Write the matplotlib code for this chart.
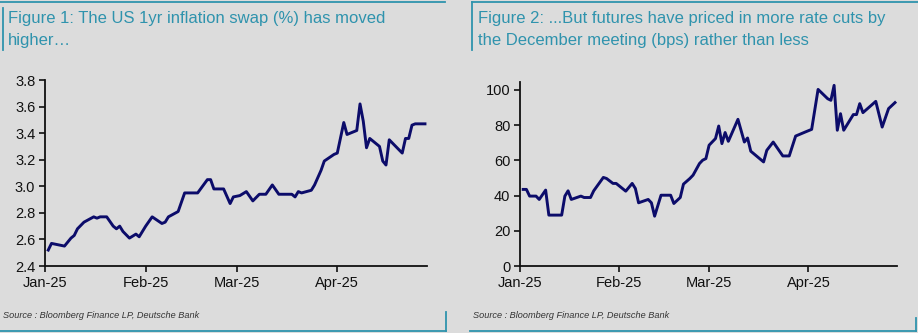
import matplotlib
matplotlib.use("Agg")
import matplotlib.pyplot as plt
import matplotlib.dates as mdates
from matplotlib.lines import Line2D
import pandas as pd

# Figure 1: US 1yr inflation swap (%)
swap_dates = [
    "2025-01-02", "2025-01-03", "2025-01-05", "2025-01-07", "2025-01-09", "2025-01-10",
    "2025-01-11", "2025-01-13", "2025-01-16", "2025-01-17", "2025-01-18", "2025-01-20",
    "2025-01-22", "2025-01-23", "2025-01-24", "2025-01-25", "2025-01-27", "2025-01-29",
    "2025-01-30", "2025-02-01", "2025-02-03", "2025-02-06", "2025-02-07", "2025-02-08",
    "2025-02-11", "2025-02-13", "2025-02-17", "2025-02-20", "2025-02-21", "2025-02-22",
    "2025-02-25", "2025-02-27", "2025-02-28", "2025-03-02", "2025-03-04", "2025-03-06",
    "2025-03-08", "2025-03-10", "2025-03-12", "2025-03-14", "2025-03-18", "2025-03-19",
    "2025-03-20", "2025-03-21", "2025-03-24", "2025-03-25", "2025-03-27", "2025-03-28",
    "2025-03-31", "2025-04-01", "2025-04-03", "2025-04-04", "2025-04-07", "2025-04-08",
    "2025-04-09", "2025-04-10", "2025-04-11", "2025-04-14", "2025-04-15", "2025-04-16",
    "2025-04-17", "2025-04-21", "2025-04-22", "2025-04-23", "2025-04-24", "2025-04-25",
    "2025-04-28",
]
swap_values = [
    2.52, 2.57, 2.56, 2.55, 2.61, 2.63,
    2.68, 2.73, 2.77, 2.76, 2.77, 2.77,
    2.70, 2.68, 2.70, 2.66, 2.61, 2.64,
    2.62, 2.70, 2.77, 2.72, 2.73, 2.77,
    2.81, 2.95, 2.95, 3.05, 3.05, 2.98,
    2.98, 2.87, 2.92, 2.93, 2.96, 2.89,
    2.94, 2.94, 3.01, 2.94, 2.94, 2.92,
    2.96, 2.95, 2.97, 3.01, 3.12, 3.19,
    3.24, 3.25, 3.48, 3.39, 3.42, 3.62,
    3.49, 3.29, 3.36, 3.30, 3.19, 3.16,
    3.35, 3.25, 3.36, 3.36, 3.46, 3.47,
    3.47,
]

# Figure 2: rate cuts priced by the December meeting (bps)
cuts_dates = [
    "2025-01-02", "2025-01-03", "2025-01-04", "2025-01-06", "2025-01-07", "2025-01-09",
    "2025-01-10", "2025-01-14", "2025-01-15", "2025-01-16", "2025-01-17", "2025-01-20",
    "2025-01-21", "2025-01-23", "2025-01-24", "2025-01-27", "2025-01-28", "2025-01-30",
    "2025-01-31", "2025-02-03", "2025-02-05", "2025-02-06", "2025-02-07", "2025-02-10",
    "2025-02-11", "2025-02-12", "2025-02-14", "2025-02-17", "2025-02-18", "2025-02-20",
    "2025-02-21", "2025-02-23", "2025-02-24", "2025-02-26", "2025-02-27", "2025-02-28",
    "2025-03-01", "2025-03-03", "2025-03-04", "2025-03-05", "2025-03-06", "2025-03-07",
    "2025-03-10", "2025-03-12", "2025-03-13", "2025-03-14", "2025-03-18", "2025-03-19",
    "2025-03-21", "2025-03-24", "2025-03-26", "2025-03-28", "2025-03-31", "2025-04-02",
    "2025-04-04", "2025-04-07", "2025-04-08", "2025-04-09", "2025-04-10", "2025-04-11",
    "2025-04-12", "2025-04-15", "2025-04-16", "2025-04-17", "2025-04-18", "2025-04-22",
    "2025-04-24", "2025-04-26", "2025-04-28",
]
cuts_values = [
    43.5, 43.5, 39.7, 39.7, 37.8, 43.1,
    28.9, 28.9, 39.7, 42.7, 37.8, 39.7,
    38.9, 38.9, 42.7, 50.3, 49.7, 46.9,
    46.9, 42.5, 46.9, 44.0, 35.9, 37.8,
    35.9, 28.3, 40.2, 40.2, 35.5, 38.9,
    46.5, 49.7, 51.6, 58.2, 60.1, 61.0,
    68.6, 72.4, 79.5, 69.5, 75.8, 70.8,
    83.3, 70.4, 72.7, 65.2, 59.1, 65.7,
    70.4, 62.5, 62.5, 73.8, 76.1, 77.6,
    100.3, 95.0, 94.1, 102.6, 77.1, 86.5,
    77.1, 86.0, 86.0, 92.2, 87.1, 93.5,
    78.9, 89.4, 92.8,
]

titles = [
    "Figure 1: The US 1yr inflation swap (%) has moved\nhigher\u2026",
    "Figure 2: ...But futures have priced in more rate cuts by\nthe December meeting (bps) rather than less",
]
source = "Source : Bloomberg Finance LP, Deutsche Bank"

bg = "#dcdcdc"
teal = "#2f93ad"
navy = "#0c0c6a"

plt.rcParams["font.family"] = ["Liberation Sans", "DejaVu Sans"]

W, H = 918, 333
fig = plt.figure(figsize=(W / 100, H / 100), dpi=100, facecolor=bg)


def fx(px):
    return px / W


def fy(py):
    return 1 - py / H


def style_axes(ax):
    ax.set_facecolor(bg)
    for s in ["top", "right"]:
        ax.spines[s].set_visible(False)
    for s in ["left", "bottom"]:
        ax.spines[s].set_color("#111111")
        ax.spines[s].set_linewidth(1.3)
    ax.tick_params(axis="both", direction="out", length=4, width=1.2,
                   labelsize=10.5, colors="#111111", pad=3)
    ax.xaxis.set_major_locator(mdates.MonthLocator(bymonth=[1, 2, 3, 4]))
    ax.xaxis.set_major_formatter(mdates.DateFormatter("%b-%y"))
    ax.set_xlim(pd.Timestamp("2025-01-01"), pd.Timestamp("2025-04-28 15:00"))


# left chart
ax1 = fig.add_axes([fx(45), fy(266), fx(427) - fx(45), fy(80) - fy(266)])
style_axes(ax1)
ax1.plot(pd.to_datetime(swap_dates), swap_values, color=navy, lw=2.1)
ax1.set_ylim(2.4, 3.8)
ax1.set_yticks([2.4, 2.6, 2.8, 3.0, 3.2, 3.4, 3.6, 3.8])
ax1.yaxis.set_major_formatter(plt.FormatStrFormatter("%.1f"))

# right chart
ax2 = fig.add_axes([fx(520), fy(266), fx(897) - fx(520), fy(82) - fy(266)])
style_axes(ax2)
ax2.plot(pd.to_datetime(cuts_dates), cuts_values, color=navy, lw=2.1)
ax2.set_ylim(0, 104.5)
ax2.set_yticks([0, 20, 40, 60, 80, 100])

# titles and sources
fig.text(fx(8), fy(11), titles[0], ha="left", va="top", fontsize=12,
         color=teal, linespacing=1.55)
fig.text(fx(478), fy(11), titles[1], ha="left", va="top", fontsize=12,
         color=teal, linespacing=1.55)
for x0 in [3, 473]:
    fig.text(fx(x0), fy(316), source, ha="left", va="center", fontsize=6.6,
             style="italic", color="#333333")

# frame lines of the two panels
frame = [
    ([0, 445], [2, 2]), ([3, 3], [8, 50]),
    ([472, 918], [2, 2]), ([472, 472], [2, 50]),
    ([0, 446], [331, 331]), ([446, 446], [312, 331]),
    ([470, 916], [331, 331]), ([916, 916], [318, 331]),
]
for xs, ys in frame:
    fig.add_artist(Line2D([fx(v) for v in xs], [fy(v) for v in ys],
                          color=teal, lw=1.3, transform=fig.transFigure))

fig.savefig("out.png", dpi=100, facecolor=bg)
